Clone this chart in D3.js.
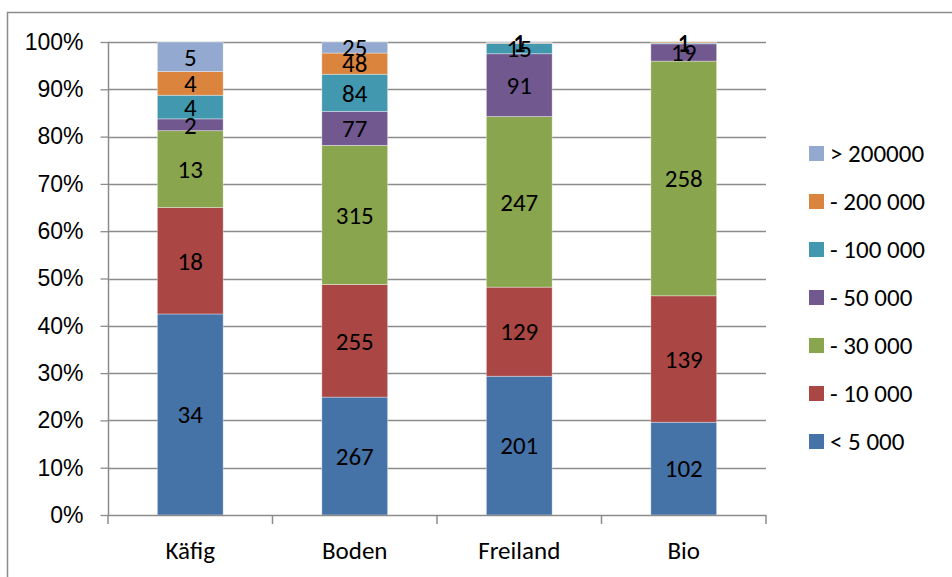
<!DOCTYPE html>
<html>
<head>
<meta charset="utf-8">
<script src="https://cdn.jsdelivr.net/npm/d3@7"></script>
<style>
  html, body { margin: 0; padding: 0; background: #fff; }
  svg { display: block; font-family: Carlito, Calibri, Lato, "Open Sans", sans-serif; }
</style>
</head>
<body>
<svg id="chart" width="952" height="577"></svg>
<script>
// Haltungsformen (categories)
const categories = ["Käfig", "Boden", "Freiland", "Bio"];
// Size classes, bottom to top of each stack
const seriesNames = ["< 5 000", "- 10 000", "- 30 000", "- 50 000", "- 100 000", "- 200 000", "> 200000"];
const seriesColors = ["#4572A7", "#AA4643", "#89A54E", "#71588F", "#4198AF", "#DB843D", "#93A9CF"];
// counts per category, one array per size class (null = no entry)
const lt5000   = [34, 267, 201, 102];
const to10000  = [18, 255, 129, 139];
const to30000  = [13, 315, 247, 258];
const to50000  = [2, 77, 91, 19];
const to100000 = [4, 84, 15, 1];
const to200000 = [4, 48, 1, 1];
const gt200000 = [5, 25, 1, null];
const seriesValues = [lt5000, to10000, to30000, to50000, to100000, to200000, gt200000];
const yTicks = [0, 0.1, 0.2, 0.3, 0.4, 0.5, 0.6, 0.7, 0.8, 0.9, 1.0];

const FS = 25;      // labels, categories, legend
const FS_AXIS = 23; // percent tick labels
const svg = d3.select("#chart");
const W = 952, H = 577;
const plot = { left: 108, right: 766, top: 42, bottom: 515 };

// outer chart frame
svg.append("rect")
  .attr("x", 7.5).attr("y", 12.5)
  .attr("width", W).attr("height", H)
  .attr("fill", "none").attr("stroke", "#8c8c8c").attr("stroke-width", 1.5);

const x = d3.scaleBand().domain(categories).range([plot.left, plot.right]).paddingInner(0).paddingOuter(0);
const barW = x.bandwidth() * 0.4;
const y = d3.scaleLinear().domain([0, 1]).range([plot.bottom, plot.top]);

// gridlines
svg.append("g")
  .selectAll("line")
  .data(yTicks.slice(1))
  .join("line")
  .attr("x1", plot.left).attr("x2", plot.right)
  .attr("y1", d => Math.round(y(d)) + 0.5).attr("y2", d => Math.round(y(d)) + 0.5)
  .attr("stroke", "#8c8c8c").attr("stroke-width", 1.3);

// stacked percentages
const rows = categories.map((c, i) => {
  const row = { cat: c };
  seriesNames.forEach((s, k) => { row[s] = seriesValues[k][i] || 0; });
  return row;
});
const stack = d3.stack().keys(seriesNames).offset(d3.stackOffsetExpand);
const layers = stack(rows);

const gBars = svg.append("g");
layers.forEach((layer, k) => {
  layer.forEach((seg, i) => {
    const v = seriesValues[k][i];
    if (v == null) return;
    gBars.append("rect")
      .attr("x", x(categories[i]) + (x.bandwidth() - barW) / 2)
      .attr("y", y(seg[1]))
      .attr("width", barW)
      .attr("height", Math.max(0, y(seg[0]) - y(seg[1])))
      .attr("fill", seriesColors[k])
      .attr("stroke", "rgba(255,255,255,0.45)")
      .attr("stroke-width", 0.8);
  });
});

// value labels
const gLabels = svg.append("g");
layers.forEach((layer, k) => {
  layer.forEach((seg, i) => {
    const v = seriesValues[k][i];
    if (v == null) return;
    gLabels.append("text")
      .attr("x", x(categories[i]) + x.bandwidth() / 2)
      .attr("y", y((seg[0] + seg[1]) / 2))
      .attr("dy", "0.35em")
      .attr("text-anchor", "middle")
      .attr("font-size", FS)
      .attr("fill", "#000")
      .text(v);
  });
});

// y axis
const yAxis = d3.axisLeft(y).tickValues(yTicks).tickFormat(d3.format(".0%")).tickSize(8).tickPadding(17);
const gy = svg.append("g").attr("transform", `translate(${plot.left + 0.5},0)`).call(yAxis);
gy.select(".domain").attr("stroke", "#8c8c8c").attr("stroke-width", 1.5).attr("d", `M0,${plot.top}V${plot.bottom}`);
gy.selectAll(".tick line").attr("stroke", "#8c8c8c").attr("stroke-width", 1.3);
gy.selectAll(".tick text").attr("font-size", FS_AXIS).attr("fill", "#000").attr("font-family", null);

// x axis
const boundaries = categories.map(c => x(c)).concat([plot.right]);
const gx = svg.append("g");
gx.append("line")
  .attr("x1", plot.left).attr("x2", plot.right)
  .attr("y1", plot.bottom + 0.5).attr("y2", plot.bottom + 0.5)
  .attr("stroke", "#8c8c8c").attr("stroke-width", 1.5);
gx.selectAll("line.tk").data(boundaries).join("line").attr("class", "tk")
  .attr("x1", d => d).attr("x2", d => d)
  .attr("y1", plot.bottom).attr("y2", plot.bottom + 9)
  .attr("stroke", "#8c8c8c").attr("stroke-width", 1.5);
gx.selectAll("text").data(categories).join("text")
  .attr("x", d => x(d) + x.bandwidth() / 2)
  .attr("y", 550).attr("dy", "0.35em")
  .attr("text-anchor", "middle").attr("font-size", FS).attr("fill", "#000")
  .text(d => d);

// legend, top entry is the last series
const legendOrder = seriesNames.map((s, k) => k).reverse();
const gLeg = svg.append("g");
legendOrder.forEach((k, j) => {
  const cy = 153 + j * 48;
  gLeg.append("rect").attr("x", 809).attr("y", cy - 7).attr("width", 15).attr("height", 15).attr("fill", seriesColors[k]);
  gLeg.append("text").attr("x", 830).attr("y", cy).attr("dy", "0.35em")
    .attr("font-size", FS).attr("fill", "#000").text(seriesNames[k]);
});
</script>
</body>
</html>
